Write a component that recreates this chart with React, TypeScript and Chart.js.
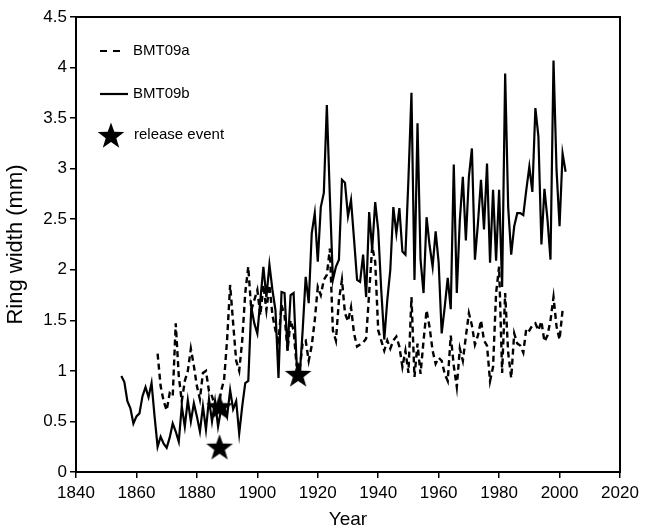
import { useEffect, useRef } from "react";
import { Chart, registerables } from "chart.js";

Chart.register(...registerables);

const FONT = "Arial, 'Liberation Sans', sans-serif";

// BMT09b (solid), first year 1855
const startB = 1855;
const valuesB = [
  0.95, 0.89, 0.7, 0.63, 0.48, 0.55, 0.58, 0.75, 0.84, 0.74,
  0.88, 0.55, 0.25, 0.35, 0.28, 0.24, 0.34, 0.48, 0.4, 0.3,
  0.65, 0.45, 0.71, 0.5, 0.68, 0.55, 0.4, 0.65, 0.42, 0.72,
  0.5, 0.7, 0.45, 0.62, 0.65, 0.55, 0.81, 0.62, 0.7, 0.38,
  0.65, 0.88, 0.9, 1.63, 1.47, 1.37, 1.7, 2.03, 1.73, 2.05,
  1.8, 1.6, 0.93, 1.78, 1.77, 1.2, 1.75, 1.77, 1.08, 0.95,
  1.4, 1.93, 1.67, 2.36, 2.56, 2.08, 2.62, 2.76, 3.63, 2.72,
  1.9, 2.03, 2.1, 2.89, 2.86, 2.53, 2.69, 2.3, 1.9, 1.88,
  2.15, 1.73, 2.57, 2.2, 2.67, 2.39, 1.8, 1.31, 1.7, 2.0,
  2.62, 2.36, 2.61, 2.18, 2.15, 2.9, 3.75, 1.9, 3.45, 2.1,
  1.77, 2.52, 2.24, 2.03, 2.38, 2.07, 1.37, 1.63, 1.92, 1.61,
  3.04, 1.77, 2.49, 2.92, 2.29, 2.92, 3.2, 2.1, 2.46, 2.89,
  2.4, 3.05, 2.07, 2.79, 2.09, 2.79, 1.83, 3.94, 2.62, 2.15,
  2.43, 2.56, 2.56, 2.54, 2.79, 3.02, 2.77, 3.6, 3.32, 2.25,
  2.8, 2.5, 2.1, 4.07, 2.99, 2.43, 3.15, 2.97,
];

// BMT09a (dashed), first year 1867
const startA = 1867;
const valuesA = [
  1.17, 0.85, 0.7, 0.61, 0.78, 0.75, 1.47, 0.95, 0.7, 0.9,
  1.0, 1.22, 1.05, 0.85, 0.72, 0.98, 1.0, 0.8, 0.75, 0.65,
  0.6, 0.8, 0.91, 1.31, 1.85, 1.47, 1.1, 1.0, 1.3, 1.77,
  2.03, 1.6, 1.7, 1.8, 1.55, 1.85, 1.6, 1.85, 1.55, 1.4,
  1.3, 1.65, 1.55, 1.2, 1.5, 1.4, 1.05, 1.0, 1.28, 1.3,
  1.1, 1.25, 1.5, 1.83, 1.75, 1.9, 1.95, 2.21, 1.4, 1.3,
  1.7, 1.9, 1.57, 1.49, 1.63, 1.37, 1.24, 1.26, 1.28, 1.32,
  1.77, 2.23, 2.08, 1.4, 1.3, 1.2, 1.3, 1.22, 1.3, 1.34,
  1.24, 1.04, 1.2, 0.98, 1.73, 0.94, 1.27, 0.97, 1.3, 1.6,
  1.43, 1.2, 1.07, 1.13, 1.1, 0.97, 0.9, 1.35, 1.05, 0.84,
  1.22, 1.1, 1.34, 1.57, 1.45, 1.26, 1.35, 1.5, 1.3, 1.25,
  0.9, 1.04, 1.77, 2.03, 0.98, 1.77, 1.18, 0.93, 1.37, 1.27,
  1.25, 1.18, 1.42, 1.4, 1.45, 1.47, 1.4, 1.49, 1.29, 1.35,
  1.5, 1.73, 1.44, 1.31, 1.6,
];

// release events
const releaseYears = [1887.5, 1887.5, 1913.5];
const releaseValues = [0.25, 0.65, 0.97];

const xTicks = [1840, 1860, 1880, 1900, 1920, 1940, 1960, 1980, 2000, 2020];
const yTicks = [0, 0.5, 1, 1.5, 2, 2.5, 3, 3.5, 4, 4.5];

const legendLabels = ["BMT09a", "BMT09b", "release event"];

function makeStar(outer: number): HTMLCanvasElement {
  const size = Math.ceil(outer * 2 + 2);
  const c = document.createElement("canvas");
  c.width = size;
  c.height = size;
  const g = c.getContext("2d")!;
  const cx = size / 2;
  const cy = size / 2 + outer * 0.1;
  const inner = outer * 0.4;
  g.beginPath();
  for (let i = 0; i < 10; i++) {
    const r = i % 2 === 0 ? outer : inner;
    const a = -Math.PI / 2 + (i * Math.PI) / 5;
    const px = cx + r * Math.cos(a);
    const py = cy + r * Math.sin(a);
    if (i === 0) g.moveTo(px, py);
    else g.lineTo(px, py);
  }
  g.closePath();
  g.fillStyle = "#000";
  g.fill();
  return c;
}

export default function App() {
  const ref = useRef<HTMLCanvasElement | null>(null);

  useEffect(() => {
    if (!ref.current) return;
    const star = makeStar(14);

    const frame = {
      id: "frame",
      afterDraw(chart: any) {
        const { ctx, chartArea } = chart;
        ctx.save();
        ctx.strokeStyle = "#000";
        ctx.lineWidth = 2;
        ctx.strokeRect(
          chartArea.left,
          chartArea.top,
          chartArea.right - chartArea.left,
          chartArea.bottom - chartArea.top
        );
        // legend
        ctx.font = `15px ${FONT}`;
        ctx.fillStyle = "#000";
        ctx.textBaseline = "middle";
        ctx.lineWidth = 2.2;
        ctx.setLineDash([7, 6]);
        ctx.beginPath();
        ctx.moveTo(100, 51);
        ctx.lineTo(120, 51);
        ctx.stroke();
        ctx.setLineDash([]);
        ctx.beginPath();
        ctx.moveTo(100, 94);
        ctx.lineTo(128, 94);
        ctx.stroke();
        ctx.drawImage(star, 111 - star.width / 2, 135 - star.height / 2);
        ctx.fillText(legendLabels[0], 133, 51);
        ctx.fillText(legendLabels[1], 133, 94);
        ctx.fillText(legendLabels[2], 134, 135);
        ctx.restore();
      },
    };

    const chart = new Chart(ref.current, {
      type: "line",
      data: {
        datasets: [
          {
            label: legendLabels[2],
            data: releaseYears.map((x, i) => ({ x, y: releaseValues[i] })),
            showLine: false,
            pointStyle: star as any,
            pointRadius: 14,
            order: 0,
          },
          {
            label: legendLabels[1],
            data: valuesB.map((y, i) => ({ x: startB + i, y })),
            borderColor: "#000",
            borderWidth: 2.2,
            pointRadius: 0,
            tension: 0,
            fill: false,
            order: 1,
          },
          {
            label: legendLabels[0],
            data: valuesA.map((y, i) => ({ x: startA + i, y })),
            borderColor: "#000",
            borderWidth: 2.4,
            borderDash: [6, 4],
            pointRadius: 0,
            tension: 0,
            fill: false,
            order: 2,
          },
        ],
      },
      options: {
        animation: false,
        responsive: false,
        layout: { padding: { left: 0, right: 25, top: 17, bottom: 0 } },
        plugins: { legend: { display: false }, tooltip: { enabled: false } },
        scales: {
          x: {
            type: "linear",
            min: xTicks[0],
            max: xTicks[xTicks.length - 1],
            afterBuildTicks(scale: any) {
              scale.ticks = xTicks.map((v) => ({ value: v }));
            },
            afterFit(scale: any) {
              scale.height = 59;
            },
            grid: {
              drawOnChartArea: false,
              drawTicks: true,
              tickLength: 6,
              color: "#000",
              lineWidth: 1.5,
            },
            border: { display: false },
            ticks: {
              color: "#000",
              font: { family: FONT, size: 17 },
              padding: 5,
              maxRotation: 0,
              autoSkip: false,
              callback: (v: any) => String(v),
            },
            title: {
              display: true,
              text: "Year",
              color: "#000",
              font: { family: FONT, size: 19 },
              padding: { top: 0, bottom: 0 },
            },
          },
          y: {
            type: "linear",
            min: yTicks[0],
            max: yTicks[yTicks.length - 1],
            afterBuildTicks(scale: any) {
              scale.ticks = yTicks.map((v) => ({ value: v }));
            },
            afterFit(scale: any) {
              scale.width = 76;
            },
            grid: {
              drawOnChartArea: false,
              drawTicks: true,
              tickLength: 6,
              color: "#000",
              lineWidth: 1.5,
            },
            border: { display: false },
            ticks: {
              color: "#000",
              font: { family: FONT, size: 17 },
              padding: 3,
              autoSkip: false,
              callback: (v: any) => String(v),
            },
            title: {
              display: true,
              text: "Ring width (mm)",
              color: "#000",
              font: { family: FONT, size: 22 },
              padding: { top: 3, bottom: 0 },
            },
          },
        },
      },
      plugins: [frame],
    });
    return () => chart.destroy();
  }, []);

  return (
    <div style={{ position: "absolute", left: 0, top: 0, width: 645, height: 531, background: "#fff" }}>
      <canvas ref={ref} width={645} height={531} style={{ width: 645, height: 531 }} />
    </div>
  );
}
